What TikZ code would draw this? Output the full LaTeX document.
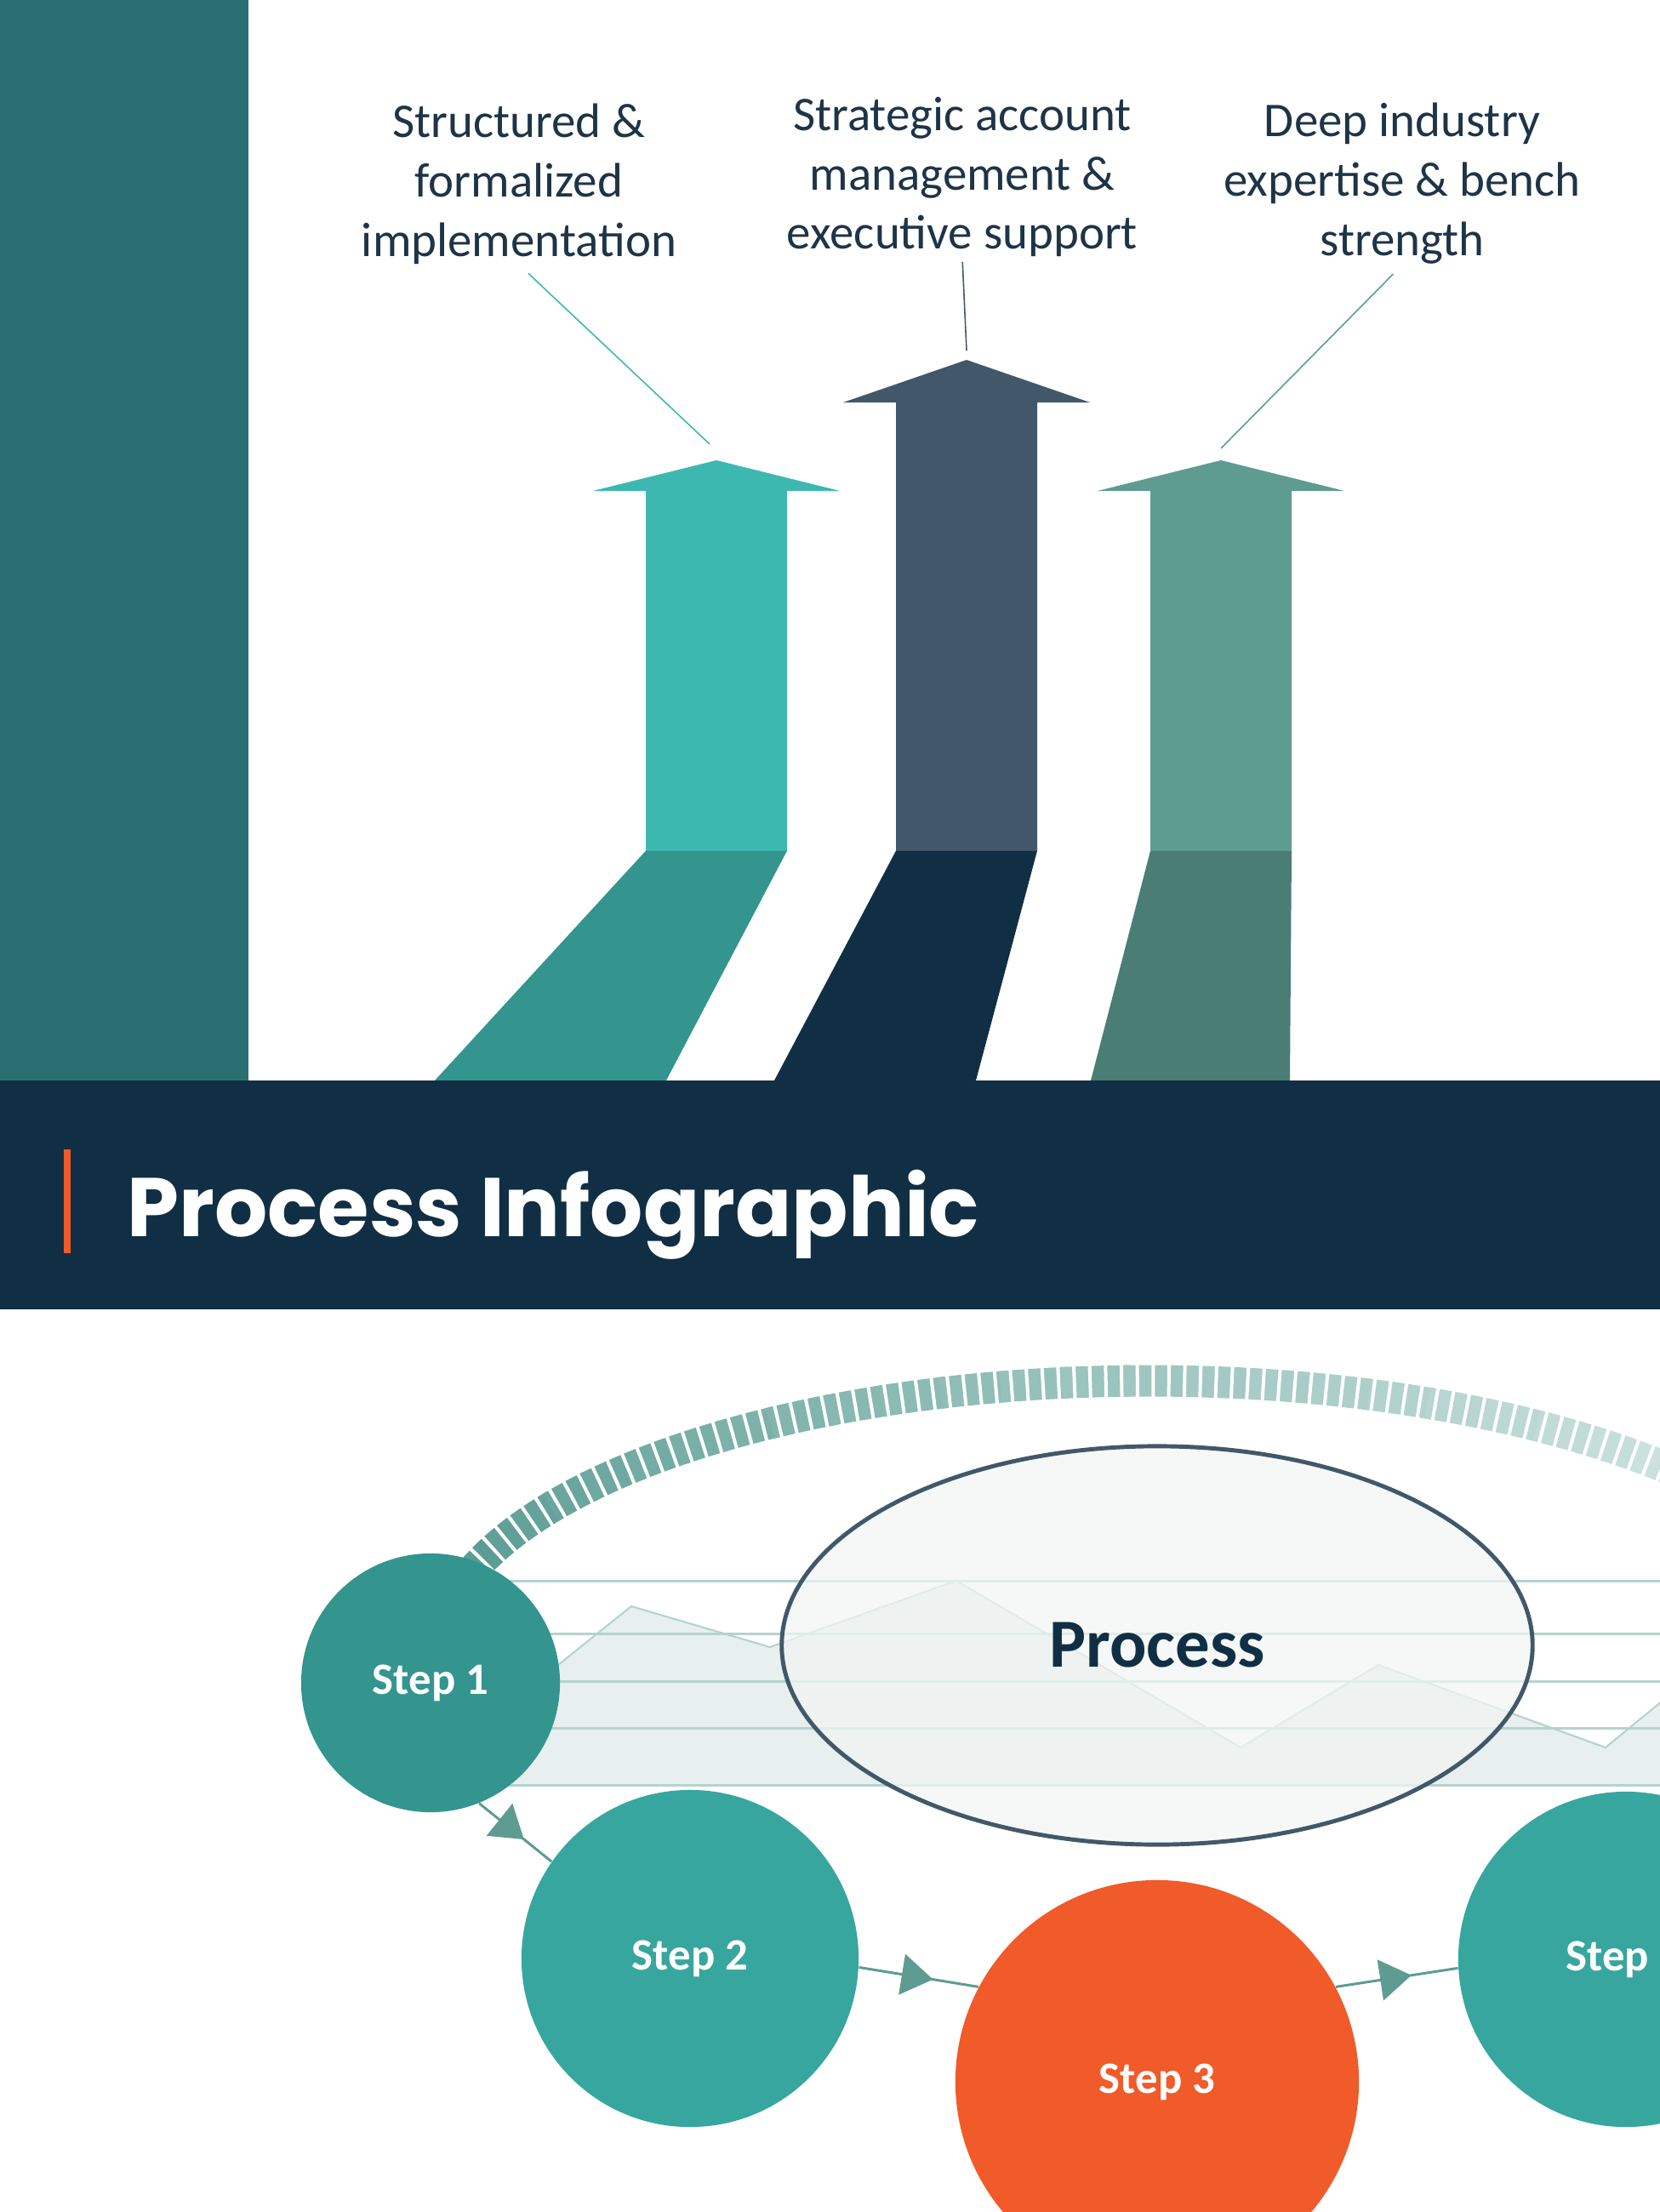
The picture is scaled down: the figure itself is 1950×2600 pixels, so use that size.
\documentclass[tikz,border=0pt]{standalone}
\usepackage{fontspec}
\setmainfont{Carlito}
\newfontfamily\titlefont{Poppins}
\usetikzlibrary{shapes.geometric,decorations.markings,arrows.meta}

\definecolor{barteal}{HTML}{2A7073}
\definecolor{navy}{HTML}{112F44}
\definecolor{accent}{HTML}{F15A29}
\definecolor{aqua}{HTML}{3DB8B0}
\definecolor{aquadark}{HTML}{33958E}
\definecolor{slate}{HTML}{42586A}
\definecolor{sage}{HTML}{5E9C92}
\definecolor{sagedark}{HTML}{4A7E75}
\definecolor{txtnavy}{HTML}{1E3447}
\definecolor{stepdark}{HTML}{33958E}
\definecolor{stepmid}{HTML}{37A69F}
\definecolor{chartln}{HTML}{B5D3CE}
\definecolor{chartfill}{HTML}{E7F0EE}
\definecolor{procfill}{HTML}{F1F5F4}
\definecolor{ringL}{HTML}{5B9D94}
\definecolor{ringR}{HTML}{D4E7E4}

\tikzset{
  lbl/.style={align=center, inner sep=0pt, text=txtnavy, font=\fontsize{16.2}{19.9}\selectfont},
  lead/.style={line width=0.45pt, shorten <=0.15cm},
  steptxt/.style={text=white, font=\bfseries\fontsize{15}{18}\selectfont},
  stepnode/.style={circle, inner sep=0pt, steptxt},
  gridline/.style={draw=chartln, line width=0.85pt},
  flow/.style={draw=sage, line width=0.85pt, postaction={decorate},
    decoration={markings, mark=at position 0.62 with {\arrow{Triangle[length=0.37cm,width=0.48cm]}}}}
}

\begin{document}
\begin{tikzpicture}[x=0.01cm, y=-0.01cm]
  \useasboundingbox (0,0) rectangle (1950,2600);
  \clip (0,0) rectangle (1965,2615);

  \fill[barteal] (0,0) rectangle (292,1270);

  % arrows with their shadows
  \foreach \cx/\tip/\base/\bl/\br/\col/\shd in {842/541/577/511/783/aqua/aquadark, 1136/423/473/910/1147/slate/navy, 1435/541/577/1282/1516/sage/sagedark} {
    \fill[\shd] ({\cx-83},1000) -- ({\cx+83},1000) -- (\br,1270) -- (\bl,1270) -- cycle;
    \fill[\col] (\cx,\tip) -- ({\cx+145},\base) -- ({\cx+83},\base) -- ({\cx+83},1000)
      -- ({\cx-83},1000) -- ({\cx-83},\base) -- ({\cx-145},\base) -- cycle;
  }

  \node[lbl] (lab1) at (610,216) {Structured \&\\formalized\\implementation};
  \node[lbl] (lab2) at (1131,208) {Strategic account\\management \&\\executive support};
  \node[lbl] (lab3) at (1648,216) {Deep industry\\expertise \& bench\\strength};
  \coordinate (end1) at (834,522);
  \coordinate (end2) at (1136,412);
  \coordinate (end3) at (1435,527);
  \draw[lead, aqua] (lab1.south) -- (end1);
  \draw[lead, slate, shorten <=0.05cm] (lab2.south) -- (end2);
  \draw[lead, sage] (lab3.south) -- (end3);

  % title band
  \fill[navy] (0,1270) rectangle (1965,1539);
  \fill[accent] (75,1351) rectangle (83,1473);
  \node[anchor=base west, inner sep=0pt, text=white, font=\titlefont\bfseries\fontsize{27.8}{33}\selectfont] (title) at (149,1453) {Process Infographic};

  % chart behind the process
  \fill[chartfill] (560,2098) -- (560,2034) -- (742,1888) -- (905,1936) -- (1124,1858) -- (1458,2054)
    -- (1620,1957) -- (1887,2054) -- (1965,1990) -- (1965,2098) -- cycle;
  \draw[draw=chartln, line width=0.6pt] (560,2034) -- (742,1888) -- (905,1936) -- (1124,1858)
    -- (1458,2054) -- (1620,1957) -- (1887,2054) -- (1965,1990);
  \foreach \y in {1858,1920,1976,2031,2098}
    \draw[gridline] (500,\y) -- (1965,\y);

  % ticked ring
  \foreach \i in {0,...,25} {
    \pgfmathsetmacro\ta{198+5*\i}
    \pgfmathsetmacro\tb{203.5+5*\i}
    \pgfmathsetmacro\p{\i*4}
    \draw[ringR!\p!ringL, line width=0.37cm] plot[domain=\ta:\tb, samples=8] ({1350+838*cos(\x)},{1950+327*sin(\x)});
  }
  \draw[white, line width=0.42cm, dash pattern=on 0.04cm off 0.145cm] plot[domain=198:330, samples=150] ({1350+838*cos(\x)},{1950+327*sin(\x)});

  \node[ellipse, draw=slate, line width=1.4pt, fill=procfill, fill opacity=0.75, text opacity=1,
    minimum width=8.82cm, minimum height=4.68cm, inner sep=0pt, text=navy,
    font=\bfseries\fontsize{23}{27}\selectfont] (proc) at (1360,1934) {Process};

  \node[stepnode, fill=stepdark, minimum size=3.04cm] (s1) at (506,1978) {Step 1};
  \node[stepnode, fill=stepmid, minimum size=3.96cm] (s2) at (811,2302) {Step 2};
  \node[stepnode, fill=accent, minimum size=4.74cm] (s3) at (1360,2447) {Step 3};
  \node[stepnode, fill=stepmid, minimum size=3.94cm] (s4) at (1911,2303) {};
  \node[steptxt, anchor=west, inner sep=0pt] (s4lbl) at (1840,2303) {Step};

  \draw[flow] (s1.-68) -- (s2.145);
  \draw[flow] (s2.-3) -- (s3.152);
  \draw[flow] (s3.28) -- (s4.183);
\end{tikzpicture}
\end{document}
